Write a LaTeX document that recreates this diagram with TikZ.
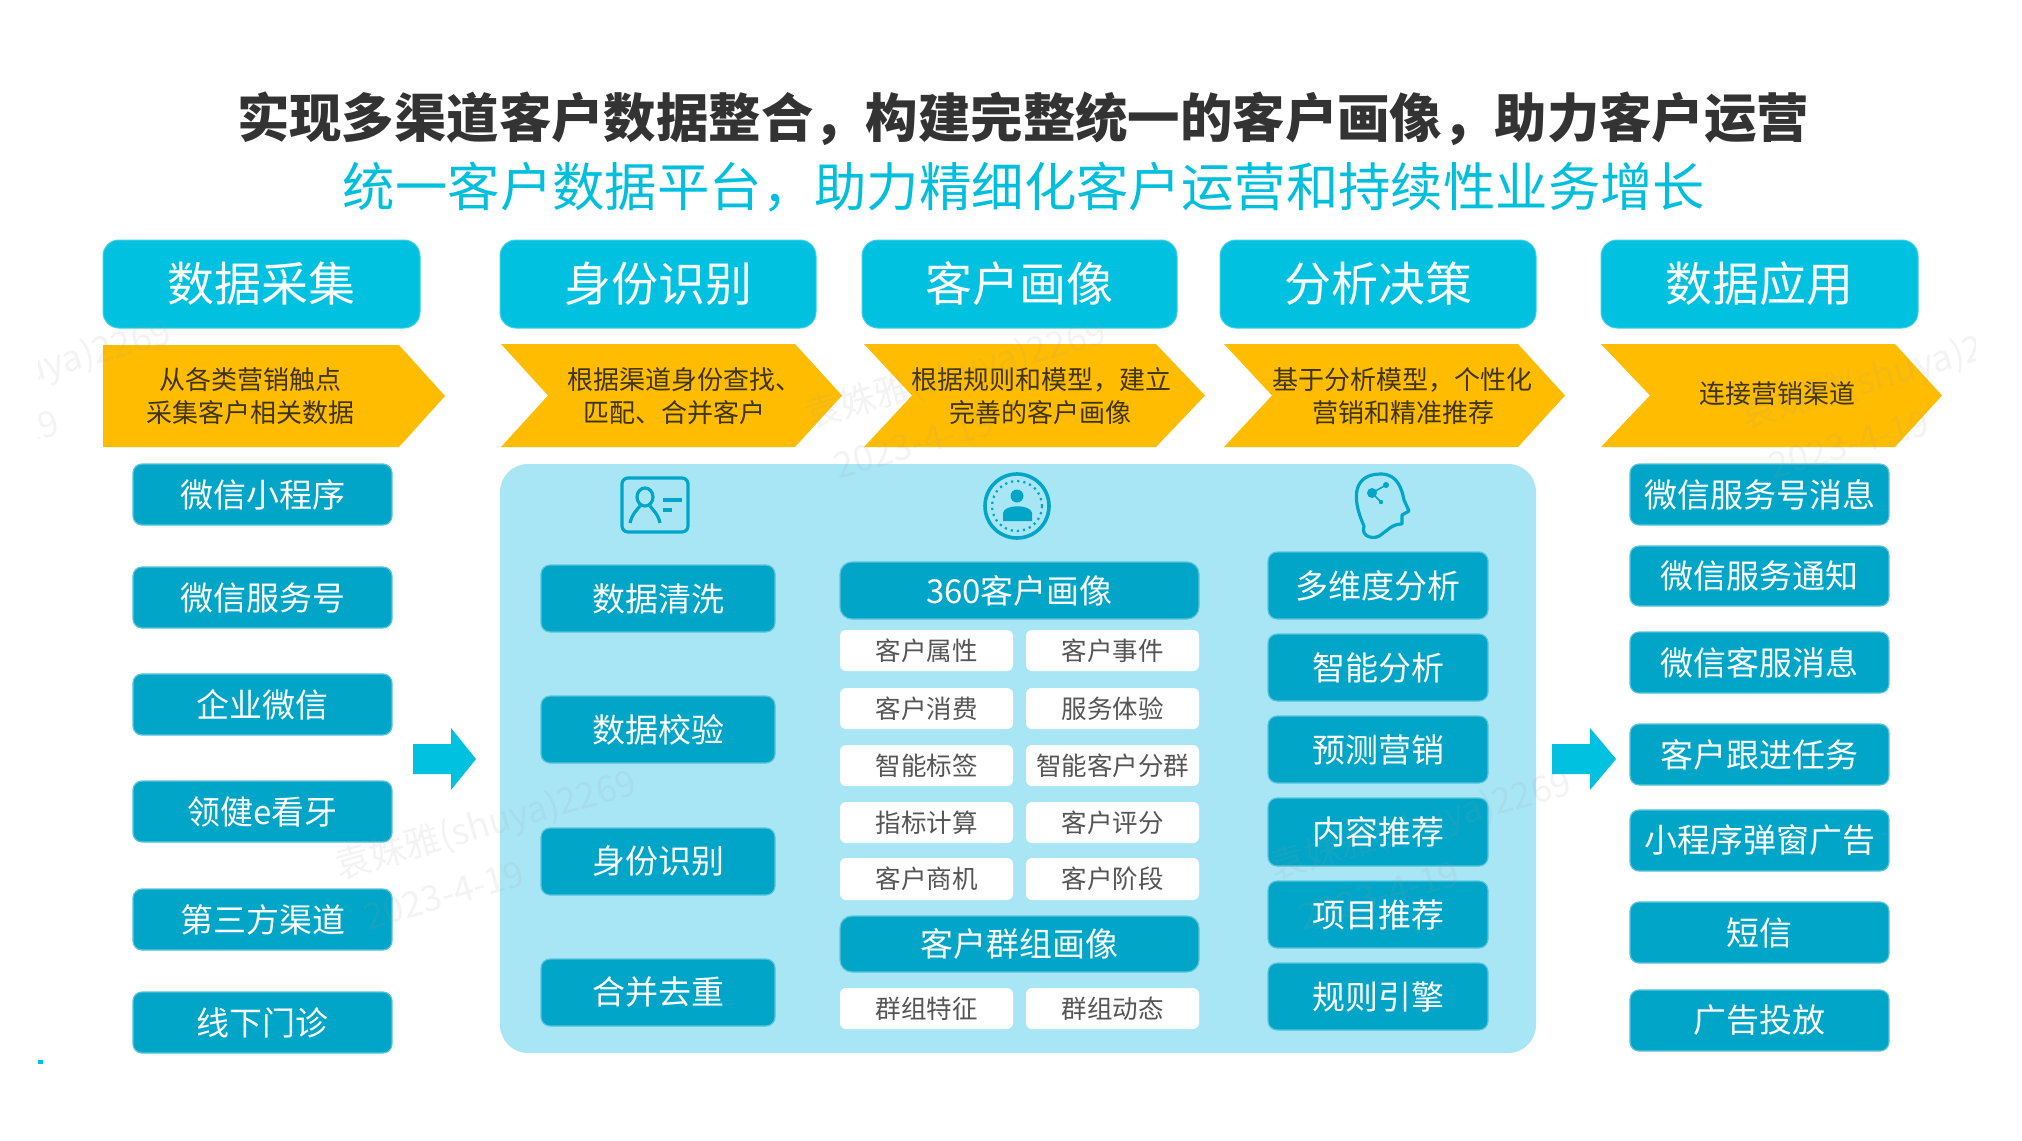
\documentclass[tikz,border=0pt]{standalone}
\usepackage{fontspec}
\setmainfont{Noto Sans CJK SC}
\usepackage{tikz}
\definecolor{headc}{HTML}{00C1DF}
\definecolor{itemc}{HTML}{00A5C8}
\definecolor{panelc}{HTML}{A8E6F6}
\definecolor{chevc}{HTML}{FFBC00}
\definecolor{titlec}{HTML}{333333}
\definecolor{subc}{HTML}{00BFDC}
\definecolor{chevt}{HTML}{40350A}
\definecolor{smallt}{HTML}{555555}
\definecolor{markc}{HTML}{A0A0A0}
\newcommand{\fsz}[1]{\fontsize{#1}{#1}\selectfont}
\tikzset{
  x=0.5pt,y=-0.5pt,
  boxbase/.style={inner sep=0pt,outer sep=0pt,align=center},
  headbox/.style={boxbase,fill=headc,draw=headc!75!white,line width=0.5pt,rounded corners=8pt,text=white,font=\fsz{23.5}},
  itembox/.style={boxbase,fill=itemc,draw=itemc!65!white,line width=0.6pt,rounded corners=4.5pt,text=white,font=\fsz{16.5}},
  barbox/.style={itembox,rounded corners=6pt},
  smallbox/.style={boxbase,fill=white,rounded corners=3pt,text=smallt,font=\fsz{12.75}},
  chevron/.style={fill=chevc},
  chevtext/.style={inner sep=0pt,align=center,text=chevt,font=\fsz{13},text height=10pt},
  blockarrow/.style={fill=headc},
  iconline/.style={draw=itemc,line width=1.6pt,fill=none},
  iconfill/.style={fill=itemc},
  markt/.style={text=markc,opacity=0.12,font=\fsz{18},rotate=16,inner sep=0pt},
}
% name, x1, y1, x2, y2, style, text
\newcommand{\rb}[7]{%
  \pgfmathsetmacro{\cxx}{(#2+#4)/2}\pgfmathsetmacro{\cyy}{(#3+#5)/2}%
  \pgfmathsetmacro{\ww}{(#4-#2)*0.5}\pgfmathsetmacro{\hh}{(#5-#3)*0.5}%
  \node[#6,minimum width=\ww pt,minimum height=\hh pt] (#1) at (\cxx,\cyy) {#7};}
% name, left, notch, shoulder, tip
\newcommand{\chev}[5]{%
  \fill[chevron] (#2,344) -- (#4,344) -- (#5,395.5) -- (#4,447) -- (#2,447) -- (#3,395.5) -- cycle;
  \coordinate (#1) at (#4,395.5);}
\begin{document}
\begin{tikzpicture}
\useasboundingbox (0,0) rectangle (2022,1140);
\fill[white] (0,0) rectangle (2022,1140);
% titles
\node[inner sep=0pt,text=titlec,font=\fsz{26.2}\bfseries] (title) at (1023,119) {实现多渠道客户数据整合，构建完整统一的客户画像，助力客户运营};
\node[inner sep=0pt,text=subc,font=\fsz{26.2}] (subtitle) at (1024,187) {统一客户数据平台，助力精细化客户运营和持续性业务增长};
% headers
\rb{h1}{103}{240}{420}{328}{headbox}{数据采集}
\rb{h2}{500}{240}{816}{328}{headbox}{身份识别}
\rb{h3}{862}{240}{1177}{328}{headbox}{客户画像}
\rb{h4}{1220}{240}{1536}{328}{headbox}{分析决策}
\rb{h5}{1601}{240}{1918}{328}{headbox}{数据应用}
% chevrons
\fill[chevron] (103,345) -- (399,345) -- (445,396) -- (399,447) -- (103,447) -- cycle;
\chev{c2}{501}{548}{795}{842}
\chev{c3}{864}{912}{1156}{1205}
\chev{c4}{1224}{1272}{1518}{1565}
\chev{c5}{1601}{1650}{1895}{1942}
\node[chevtext] (ct1a) at (250,381) {从各类营销触点};
\node[chevtext] (ct1b) at (250,414) {采集客户相关数据};
\node[chevtext] (ct2a) at (684,381) {根据渠道身份查找、};
\node[chevtext] (ct2b) at (674,414) {匹配、合并客户};
\node[chevtext] (ct3a) at (1041,381) {根据规则和模型，建立};
\node[chevtext] (ct3b) at (1040,414) {完善的客户画像};
\node[chevtext] (ct4a) at (1402,381) {基于分析模型，个性化};
\node[chevtext] (ct4b) at (1403,414) {营销和精准推荐};
\node[chevtext] (ct5) at (1777,395) {连接营销渠道};
% left items
\rb{l1}{133}{464}{392}{525}{itembox}{微信小程序}
\rb{l2}{133}{567}{392}{628}{itembox}{微信服务号}
\rb{l3}{133}{674}{392}{735}{itembox}{企业微信}
\rb{l4}{133}{781}{392}{842}{itembox}{领健e看牙}
\rb{l5}{133}{889}{392}{950}{itembox}{第三方渠道}
\rb{l6}{133}{992}{392}{1053}{itembox}{线下门诊}
% panel
\fill[panelc,rounded corners=14pt] (500,464) rectangle (1536,1053);
% column 1
\rb{a1}{541}{565}{775}{632}{itembox}{数据清洗}
\rb{a2}{541}{696}{775}{763}{itembox}{数据校验}
\rb{a3}{541}{828}{775}{895}{itembox}{身份识别}
\rb{a4}{541}{959}{775}{1026}{itembox}{合并去重}
% column 2
\rb{b0}{840}{562}{1199}{619}{barbox}{360客户画像}
\rb{s1}{840}{630}{1013}{671}{smallbox}{客户属性}
\rb{s2}{1026}{630}{1199}{671}{smallbox}{客户事件}
\rb{s3}{840}{688}{1013}{729}{smallbox}{客户消费}
\rb{s4}{1026}{688}{1199}{729}{smallbox}{服务体验}
\rb{s5}{840}{745}{1013}{786}{smallbox}{智能标签}
\rb{s6}{1026}{745}{1199}{786}{smallbox}{智能客户分群}
\rb{s7}{840}{802}{1013}{843}{smallbox}{指标计算}
\rb{s8}{1026}{802}{1199}{843}{smallbox}{客户评分}
\rb{s9}{840}{858}{1013}{900}{smallbox}{客户商机}
\rb{s10}{1026}{858}{1199}{900}{smallbox}{客户阶段}
\rb{b1}{840}{916}{1199}{972}{barbox}{客户群组画像}
\rb{s11}{840}{988}{1013}{1029}{smallbox}{群组特征}
\rb{s12}{1026}{988}{1199}{1029}{smallbox}{群组动态}
% column 3
\rb{d1}{1268}{552}{1488}{619}{itembox}{多维度分析}
\rb{d2}{1268}{634}{1488}{701}{itembox}{智能分析}
\rb{d3}{1268}{716}{1488}{783}{itembox}{预测营销}
\rb{d4}{1268}{798}{1488}{866}{itembox}{内容推荐}
\rb{d5}{1268}{881}{1488}{948}{itembox}{项目推荐}
\rb{d6}{1268}{963}{1488}{1030}{itembox}{规则引擎}
% right items
\rb{r1}{1630}{464}{1889}{525}{itembox}{微信服务号消息}
\rb{r2}{1630}{546}{1889}{606}{itembox}{微信服务通知}
\rb{r3}{1630}{632}{1889}{693}{itembox}{微信客服消息}
\rb{r4}{1630}{724}{1889}{785}{itembox}{客户跟进任务}
\rb{r5}{1630}{810}{1889}{871}{itembox}{小程序弹窗广告}
\rb{r6}{1630}{902}{1889}{963}{itembox}{短信}
\rb{r7}{1630}{990}{1889}{1051}{itembox}{广告投放}
% block arrows
\fill[blockarrow] (413,744) -- (451,744) -- (451,728) -- (476,759) -- (451,790) -- (451,774) -- (413,774) -- cycle;
\fill[blockarrow] (1552,744) -- (1590,744) -- (1590,728) -- (1616,759) -- (1590,790) -- (1590,774) -- (1552,774) -- cycle;
% card icon
\draw[iconline,rounded corners=3pt] (622,478) rectangle (688,532);
\draw[iconline] (645,497) ellipse (8 and 9);
\draw[iconline] (630,523) .. controls (632,514) and (637,510) .. (640,506);
\draw[iconline] (660,523) .. controls (658,514) and (653,510) .. (650,506);
\fill[iconfill] (663,498) rectangle (682,502);
\fill[iconfill] (663,508) rectangle (672,512);
% round person icon
\draw[itemc,line width=1.8pt] (1017,506) circle (32);
\draw[itemc,line width=1.1pt,dotted] (1017,506) circle (25);
\fill[iconfill] (1017,496) circle (6.5);
\fill[iconfill] (1003,521) -- (1003,513) .. controls (1004,504) and (1031,504) .. (1032,513) -- (1032,521) -- cycle;
% head icon
\draw[iconline,line cap=round,line join=round] (1364,526) .. controls (1350,495) and (1355,474) .. (1381,474)
  .. controls (1398,474) and (1402,490) .. (1404,500) -- (1409,511) -- (1402,515) -- (1402,524)
  .. controls (1392,524) and (1388,530) .. (1382,534) .. controls (1375,541) and (1360,537) .. (1364,526);
\fill[iconfill] (1372,493) circle (5);
\fill[iconfill] (1386,485) circle (3);
\fill[iconfill] (1381,502) circle (2.2);
\draw[itemc,line width=0.8pt] (1372,493) -- (1386,485) (1372,493) -- (1381,502);
% watermarks
\begin{scope}
\clip (38,0) rectangle (1975,1140);
\node[markt] (w1a) at (21,375) {袁姝雅(shuya)2269};
\node[markt] (w1b) at (-21,444) {2023-4-19};
\node[markt] (w2a) at (956,375) {袁姝雅(shuya)2269};
\node[markt] (w2b) at (914,444) {2023-4-19};
\node[markt] (w3a) at (486,826) {袁姝雅(shuya)2269};
\node[markt] (w3b) at (444,895) {2023-4-19};
\node[markt] (w4a) at (1421,826) {袁姝雅(shuya)2269};
\node[markt] (w4b) at (1379,895) {2023-4-19};
\node[markt] (w5a) at (1891,375) {袁姝雅(shuya)2269};
\node[markt] (w5b) at (1849,444) {2023-4-19};
\end{scope}
% small speck
\fill[headc] (38,1060) rectangle (43,1064);
\end{tikzpicture}
\end{document}
